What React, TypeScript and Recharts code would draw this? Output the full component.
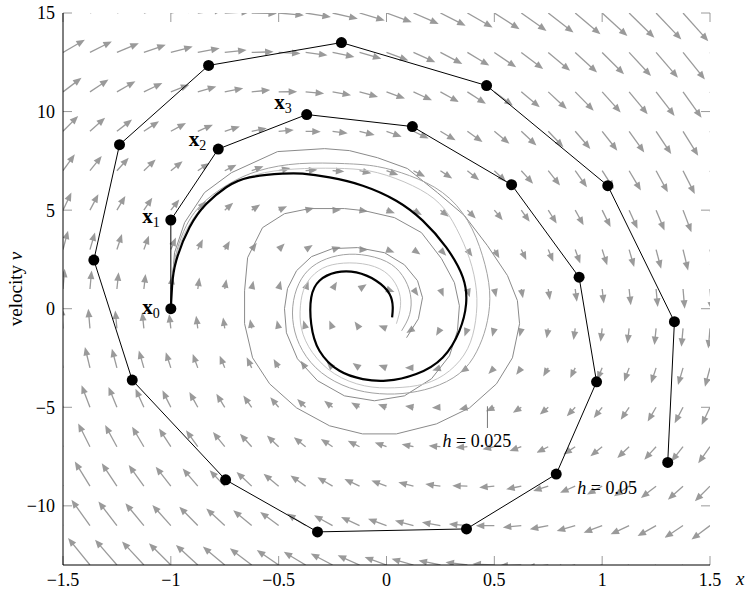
import React from 'react';
import { ComposedChart, Line, XAxis, YAxis, ReferenceLine, ReferenceDot } from 'recharts';

const FONT = '"Liberation Serif", "DejaVu Serif", serif';
const ARROW_COLOR = '#9a9a9a';
const TICK_COLOR = '#9a9a9a';

// direction field: arrow tails on a grid
const FIELD_X = [
  -1.5, -1.375, -1.25, -1.125, -1, -0.875, -0.75, -0.625, -0.5, -0.375, -0.25, -0.125,
  0, 0.125, 0.25, 0.375, 0.5, 0.625, 0.75, 0.875, 1, 1.125, 1.25, 1.375, 1.5,
];
const FIELD_V = [-13, -11, -9, -7, -5, -3, -1, 1, 3, 5, 7, 9, 11, 13, 15];
// damped oscillator: x' = v, v' = -K x - C v
const STIFFNESS = 90;
const DAMPING = 4;
const ARROW_TIME = 0.0078;

const X_DOMAIN = [-1.5, 1.5];
const V_DOMAIN = [-13, 15];
const X_TICKS = [-1.5, -1, -0.5, 0, 0.5, 1, 1.5];
const V_TICKS = [-10, -5, 0, 5, 10, 15];

// explicit Euler, h = 0.05 (the dots)
const EULER_X = [-1, -1, -0.78, -0.37, 0.12, 0.58, 0.893, 0.974, 0.787, 0.371, -0.32, -0.746, -1.179, -1.357, -1.238, -0.825, -0.209, 0.464, 1.026, 1.335, 1.304];
const EULER_V = [0, 4.5, 8.1, 9.85, 9.24, 6.29, 1.6, -3.71, -8.39, -11.17, -11.32, -8.68, -3.62, 2.47, 8.32, 12.34, 13.5, 11.32, 6.24, -0.66, -7.8];

// explicit Euler, h = 0.025
const H025_X = [
  -1, -0.997, -0.983, -0.936, -0.844, -0.719, -0.505, -0.287, -0.172, -0.042, 0.097, 0.236, 0.362, 0.468, 0.561, 0.607,
  0.617, 0.584, 0.51, 0.385, 0.232, 0.046, -0.111, -0.264, -0.417, -0.542, -0.621, -0.658, -0.658, -0.644, -0.575,
  -0.473, -0.357, -0.195, -0.102, 0.037, 0.162, 0.255, 0.315, 0.338, 0.329, 0.292, 0.209, 0.083, -0.056, -0.195,
  -0.32, -0.413, -0.464, -0.473, -0.459, -0.417, -0.348, -0.25, -0.134, -0.009, 0.083, 0.144, 0.167, 0.148, 0.093,
];
const H025_V = [
  0, 0.81, 2.84, 4.37, 5.89, 6.9, 7.97, 8.12, 8.02, 7.66, 7.11, 5.89, 4.72, 3.2, 1.68, 0.41,
  -0.76, -2.49, -3.81, -5.03, -5.84, -6.35, -6.35, -5.94, -5.03, -3.81, -2.49, -0.76, 0.91, 2.59, 4.11,
  4.82, 5.08, 5.08, 4.97, 4.62, 3.86, 2.54, 1.32, 0.15, -1.12, -2.39, -3.55, -4.42, -4.67, -4.42,
  -3.65, -2.54, -1.22, 0, 1.02, 1.93, 2.64, 3.05, 3.1, 2.84, 2.23, 1.42, 0.56, -0.51, -1.47,
];

// explicit Euler, h = 0.0125
const H0125_X = [
  -1, -0.997, -0.981, -0.941, -0.867, -0.737, -0.589, -0.403, -0.195, -0.042, 0.107, 0.26, 0.376, 0.445, 0.478,
  0.468, 0.431, 0.362, 0.246, 0.107, -0.032, -0.172, -0.301, -0.389, -0.431, -0.431, -0.394, -0.325, -0.227,
  -0.116, 0, 0.074, 0.111, 0.107, 0.07,
];
const H0125_V = [
  0, 1.17, 2.54, 3.91, 5.18, 6.29, 7.01, 7.36, 7.36, 7.21, 6.75, 5.89, 4.47, 2.69, 0.91,
  -0.61, -1.88, -3.05, -3.86, -4.26, -4.31, -4.01, -3.25, -2.13, -0.86, 0.41, 1.52, 2.28, 2.69,
  2.74, 2.39, 1.68, 0.71, -0.3, -1.12,
];

// explicit Euler, h = 0.00625
const H00625_X = [
  -1, -0.997, -0.976, -0.927, -0.844, -0.719, -0.566, -0.38, -0.195, -0.042, 0.121, 0.246, 0.325, 0.385, 0.417,
  0.413, 0.376, 0.292, 0.176, 0.037, -0.102, -0.241, -0.343, -0.394, -0.399, -0.376, -0.315, -0.227, -0.111,
  -0.009, 0.051, 0.065, 0.046,
];
const H00625_V = [
  0, 1.32, 2.64, 4.01, 5.28, 6.29, 6.9, 7.11, 7.11, 6.9, 6.24, 5.33, 4.06, 2.54, 0.91,
  -0.61, -2.03, -3.15, -3.81, -4.01, -3.91, -3.3, -2.23, -1.02, 0.15, 1.17, 1.93, 2.28, 2.28,
  1.88, 1.07, 0.15, -0.76,
];

// exact solution
const EXACT_X = [
  -1, -0.994, -0.975, -0.913, -0.836, -0.743, -0.635, -0.482, -0.389, -0.264, -0.11, 0.045, 0.168, 0.277, 0.354,
  0.369, 0.338, 0.261, 0.138, -0.001, -0.11, -0.218, -0.311, -0.349, -0.349, -0.311, -0.233, -0.14, -0.048,
  0.014, 0.029, 0.026,
];
const EXACT_V = [
  0, 1.17, 2.44, 4.13, 5.31, 6.16, 6.66, 6.85, 6.85, 6.66, 6.24, 5.48, 4.47, 3.11, 1.59,
  0.24, -1.12, -2.47, -3.31, -3.65, -3.57, -3.15, -2.13, -0.78, 0.57, 1.42, 1.84, 1.84, 1.42,
  0.75, 0.07, -0.44,
];

const zip = (xs: number[], vs: number[]) => xs.map((x, i) => ({ x, v: vs[i] }));

const euler = zip(EULER_X, EULER_V);
const h025 = zip(H025_X, H025_V);
const h0125 = zip(H0125_X, H0125_V);
const h00625 = zip(H00625_X, H00625_V);
const exact = zip(EXACT_X, EXACT_V);

const field = FIELD_X.flatMap((x) =>
  FIELD_V.map((v) => {
    const dx = v;
    const dv = -STIFFNESS * x - DAMPING * v;
    return [
      { x, y: v },
      { x: x + ARROW_TIME * dx, y: v + ARROW_TIME * dv },
    ];
  })
);

const fmt = (t: number) => (t < 0 ? `\u2212${Math.abs(t)}` : `${t}`);

function Arrow(props: any) {
  const { x1, y1, x2, y2, clipPath } = props;
  const dx = x2 - x1;
  const dy = y2 - y1;
  const len = Math.hypot(dx, dy);
  if (!len) return <g />;
  const ux = dx / len;
  const uy = dy / len;
  const head = 8.5;
  const half = 3.5;
  const reach = Math.max(len, head);
  const tx = x1 + ux * reach;
  const ty = y1 + uy * reach;
  const bx = tx - ux * head;
  const by = ty - uy * head;
  return (
    <g clipPath={clipPath}>
      {len > head && (
        <line x1={x1} y1={y1} x2={bx + ux} y2={by + uy} stroke={ARROW_COLOR} strokeWidth={1.3} />
      )}
      <polygon
        points={`${tx},${ty} ${bx - uy * half},${by + ux * half} ${bx + uy * half},${by - ux * half}`}
        fill={ARROW_COLOR}
      />
    </g>
  );
}

// inward tick marks on all four sides, drawn in pixels from the axis edge
function InTick(props: any) {
  const { x1, y1, x2, y2, side } = props;
  const len = 9;
  if (side === 'bottom') return <line x1={x1} y1={y1} x2={x1} y2={y1 - len} stroke={TICK_COLOR} />;
  if (side === 'top') return <line x1={x2} y1={y2} x2={x2} y2={y2 + len} stroke={TICK_COLOR} />;
  if (side === 'left') return <line x1={x1} y1={y1} x2={x1 + len} y2={y1} stroke={TICK_COLOR} />;
  return <line x1={x2} y1={y2} x2={x2 - len} y2={y2} stroke={TICK_COLOR} />;
}

// point labels x_0 .. x_3 (offset from the dot, in px)
const POINT_LABEL_OFFSETS = [
  [-11, 5],
  [-11, 3],
  [-12, -3],
  [-15, -6],
];

function pointLabel(index: number) {
  const [ox, oy] = POINT_LABEL_OFFSETS[index];
  return (props: any) => {
    const { viewBox } = props;
    const cx = viewBox.x + viewBox.width / 2;
    const cy = viewBox.y + viewBox.height / 2;
    return (
      <text x={cx + ox} y={cy + oy} textAnchor="end" fontFamily={FONT} fontWeight="bold" fontSize={21} fill="#000">
        x
        <tspan fontSize={14} fontWeight="normal" dy={4}>
          {index}
        </tspan>
      </text>
    );
  };
}

function stepLabel(text: string) {
  return (props: any) => {
    const { viewBox } = props;
    return (
      <text x={viewBox.x + viewBox.width / 2} y={viewBox.y + viewBox.height / 2} fontFamily={FONT} fontSize={18} fill="#000">
        <tspan fontStyle="italic">h</tspan> = {text}
      </text>
    );
  };
}

const XName = (props: any) => {
  const { viewBox } = props;
  return (
    <text x={viewBox.x + viewBox.width + 26} y={viewBox.y + 20} fontFamily={FONT} fontSize={19} fontStyle="italic" fill="#000">
      x
    </text>
  );
};

const VName = (props: any) => {
  const { viewBox } = props;
  const cx = viewBox.x - 3;
  const cy = viewBox.y + viewBox.height / 2;
  return (
    <text
      x={cx}
      y={cy}
      transform={`rotate(-90 ${cx} ${cy})`}
      textAnchor="middle"
      dominantBaseline="central"
      fontFamily={FONT}
      fontSize={19}
      fill="#000"
    >
      velocity <tspan fontStyle="italic">v</tspan>
    </text>
  );
};

const tickStyle = { fill: '#000', fontSize: 18, fontFamily: FONT };

export default function App() {
  return (
    <div style={{ position: 'absolute', left: 0, top: 0, background: '#fff' }}>
      <ComposedChart width={749} height={593} margin={{ top: 13, right: 39, bottom: 0, left: 18 }}>
        <XAxis
          type="number"
          dataKey="x"
          domain={X_DOMAIN}
          allowDataOverflow
          ticks={X_TICKS}
          tickFormatter={fmt}
          height={28}
          tickSize={0}
          tickMargin={8}
          axisLine={{ stroke: '#000' }}
          tickLine={false}
          tick={tickStyle}
          label={XName}
        />
        <XAxis
          xAxisId="top"
          orientation="top"
          type="number"
          domain={X_DOMAIN}
          allowDataOverflow
          height={0}
          tick={false}
          tickLine={false}
          axisLine={{ stroke: '#000' }}
        />
        <YAxis
          type="number"
          domain={V_DOMAIN}
          allowDataOverflow
          ticks={V_TICKS}
          tickFormatter={fmt}
          width={45}
          tickSize={0}
          tickMargin={8}
          axisLine={{ stroke: '#000' }}
          tickLine={false}
          tick={tickStyle}
          label={VName}
        />
        <YAxis
          yAxisId="right"
          orientation="right"
          type="number"
          domain={V_DOMAIN}
          allowDataOverflow
          width={0}
          tick={false}
          tickLine={false}
          axisLine={{ stroke: '#000' }}
        />

        {field.map((seg, i) => (
          <ReferenceLine key={`f${i}`} segment={seg} ifOverflow="hidden" shape={Arrow} />
        ))}

        {X_TICKS.map((t) => (
          <ReferenceLine
            key={`tx${t}`}
            segment={[{ x: t, y: V_DOMAIN[0] }, { x: t, y: V_DOMAIN[1] }]}
            shape={(p: any) => (
              <g>
                <InTick {...p} side="bottom" />
                <InTick {...p} side="top" />
              </g>
            )}
          />
        ))}
        {V_TICKS.map((t) => (
          <ReferenceLine
            key={`tv${t}`}
            segment={[{ x: X_DOMAIN[0], y: t }, { x: X_DOMAIN[1], y: t }]}
            shape={(p: any) => (
              <g>
                <InTick {...p} side="left" />
                <InTick {...p} side="right" />
              </g>
            )}
          />
        ))}

        <Line data={h025} dataKey="v" type="linear" stroke="#8a8a8a" strokeWidth={1} dot={false} activeDot={false} isAnimationActive={false} />
        <Line data={h0125} dataKey="v" type="natural" stroke="#a2a2a2" strokeWidth={1} dot={false} activeDot={false} isAnimationActive={false} />
        <Line data={h00625} dataKey="v" type="natural" stroke="#c4c4c4" strokeWidth={1} dot={false} activeDot={false} isAnimationActive={false} />
        <Line data={exact} dataKey="v" type="natural" stroke="#000" strokeWidth={2.2} dot={false} activeDot={false} isAnimationActive={false} />
        <Line
          data={euler}
          dataKey="v"
          type="linear"
          stroke="#000"
          strokeWidth={1}
          dot={{ r: 5.5, fill: '#000', stroke: '#000', strokeWidth: 0 }}
          activeDot={false}
          isAnimationActive={false}
        />

        {[0, 1, 2, 3].map((i) => (
          <ReferenceDot key={`p${i}`} x={EULER_X[i]} y={EULER_V[i]} r={0} stroke="none" fill="none" label={pointLabel(i)} />
        ))}

        <ReferenceLine segment={[{ x: 0.468, y: -6.05 }, { x: 0.468, y: -4.95 }]} stroke="#777" strokeWidth={1} />
        <ReferenceDot x={0.26} y={-7.0} r={0} stroke="none" fill="none" label={stepLabel('0.025')} />
        <ReferenceDot x={0.885} y={-9.39} r={0} stroke="none" fill="none" label={stepLabel('0.05')} />
      </ComposedChart>
    </div>
  );
}
